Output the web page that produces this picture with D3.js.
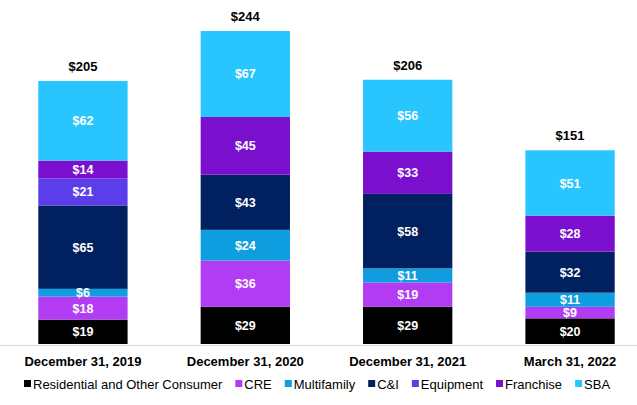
<!DOCTYPE html>
<html><head><meta charset="utf-8">
<script src="https://cdn.jsdelivr.net/npm/d3@7"></script>
<style>body{margin:0;background:#fff}</style>
</head><body>
<svg id="c" width="637" height="405"></svg>
<script>
const categories = ["December 31, 2019","December 31, 2020","December 31, 2021","March 31, 2022"];
const seriesNames = ["Residential and Other Consumer","CRE","Multifamily","C&I","Equipment","Franchise","SBA"];
const residential = [19,29,29,20];
const cre = [18,36,19,9];
const multifamily = [6,24,11,11];
const cni = [65,43,58,32];
const equipment = [21,0,0,0];
const franchise = [14,45,33,28];
const sba = [62,67,56,51];
const totals = [205,244,206,151];
const colors = ["#000000","#B23CF4","#0E9EE0","#00205F","#5B3DEA","#7A10CE","#29C5FF"];

const values = [residential,cre,multifamily,cni,equipment,franchise,sba];
const table = categories.map((c,i)=>{const o={cat:c}; seriesNames.forEach((s,j)=>o[s]=values[j][i]); return o;});
const stack = d3.stack().keys(seriesNames)(table);

const svg = d3.select("#c");
const font = "'Liberation Sans',Arial,sans-serif";
const x = d3.scaleBand().domain(categories).range([1.75,651.25]).paddingInner(0.45).paddingOuter(0.225);
const y = d3.scaleLinear().domain([0,244]).range([344,31]);

svg.append("line").attr("x1",0).attr("x2",637).attr("y1",345.5).attr("y2",345.5)
  .attr("stroke","#d9d9d9").attr("stroke-width",1);

const g = svg.append("g");
stack.forEach((layer,j)=>{
  layer.forEach((d,i)=>{
    const v = d[1]-d[0];
    if(v<=0) return;
    g.append("rect").attr("x",x(categories[i])).attr("width",x.bandwidth())
      .attr("y",y(d[1])).attr("height",y(d[0])-y(d[1])).attr("fill",colors[j]);
  });
});
stack.forEach((layer,j)=>{
  layer.forEach((d,i)=>{
    const v = d[1]-d[0];
    if(v<=0) return;
    g.append("text").attr("x",x(categories[i])+x.bandwidth()/2).attr("y",(y(d[0])+y(d[1]))/2)
      .attr("dy","0.36em").attr("text-anchor","middle").attr("fill","#fff")
      .attr("font-family",font).attr("font-weight","bold").attr("font-size",12.5).text("$"+v);
  });
});
totals.forEach((t,i)=>{
  svg.append("text").attr("x",x(categories[i])+x.bandwidth()/2).attr("y",y(t)-10)
    .attr("text-anchor","middle").attr("fill","#000").attr("font-family",font)
    .attr("font-weight","bold").attr("font-size",13).text("$"+t);
});
const xAxis = svg.append("g").attr("transform",`translate(0,${y(0)})`)
  .call(d3.axisBottom(x).tickSize(0).tickPadding(13));
xAxis.select(".domain").remove();
xAxis.selectAll("text").attr("font-family",font).attr("font-weight","bold").attr("font-size",13).attr("fill","#000");

const legend = svg.append("g").attr("transform","translate(0,384)");
let lx = 24;
seriesNames.forEach((s,j)=>{
  legend.append("rect").attr("x",lx).attr("y",-4).attr("width",7).attr("height",7).attr("fill",colors[j]);
  const t = legend.append("text").attr("x",lx+9).attr("y",0).attr("dy","0.36em")
    .attr("font-family",font).attr("font-size",13).attr("fill","#000").text(s);
  lx += 9 + t.node().getComputedTextLength() + 13;
});
</script>
</body></html>
